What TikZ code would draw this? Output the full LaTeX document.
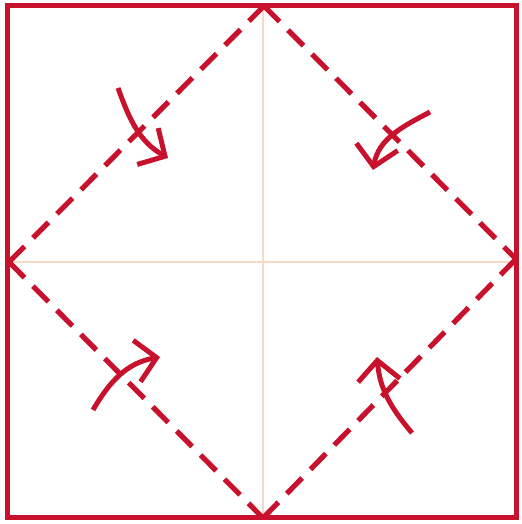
\documentclass[tikz,border=0pt]{standalone}
\usepackage{tikz}
\usetikzlibrary{arrows.meta}
\definecolor{foldred}{RGB}{200,18,45}
\definecolor{creasepeach}{RGB}{246,218,196}

\begin{document}
\begin{tikzpicture}[x=0.5pt,y=0.5pt,
edge/.style={foldred,line width=2.5pt},
fold/.style={foldred,line width=2.6pt,dash pattern=on 11pt off 6pt},
crease/.style={creasepeach,line width=1.3pt},
turn/.style={foldred,line width=2.5pt,-{Straight Barb[length=10pt,width=21pt]}}]
\useasboundingbox (0,0) rectangle (522,524);
\coordinate (top) at (264,518);\coordinate (bot) at (263,6);
\coordinate (lft) at (9,262);\coordinate (rgt) at (516,265);
\draw[crease](263,6)--(263,518);\draw[crease](8,262)--(516,262);
\draw[edge](7.5,6) rectangle (516,518.5);
\draw[fold](lft)--(top);\draw[fold](top)--(rgt);
\draw[fold](lft)--(bot);\draw[fold](bot)--(rgt);
\coordinate (a1) at (118,436);\coordinate (b1) at (168,366);
\coordinate (a2) at (430,412);\coordinate (b2) at (373,354);
\coordinate (a3) at (93,114);\coordinate (b3) at (160,167);
\coordinate (a4) at (412,91);\coordinate (b4) at (377,167);
\draw[turn](a1) to[out=-70,in=150](b1);
\draw[turn](a2) to[out=-152,in=80](b2);
\draw[turn](a3) to[out=60,in=190](b3);
\draw[turn](a4) to[out=130,in=-85](b4);
\end{tikzpicture}
\end{document}
